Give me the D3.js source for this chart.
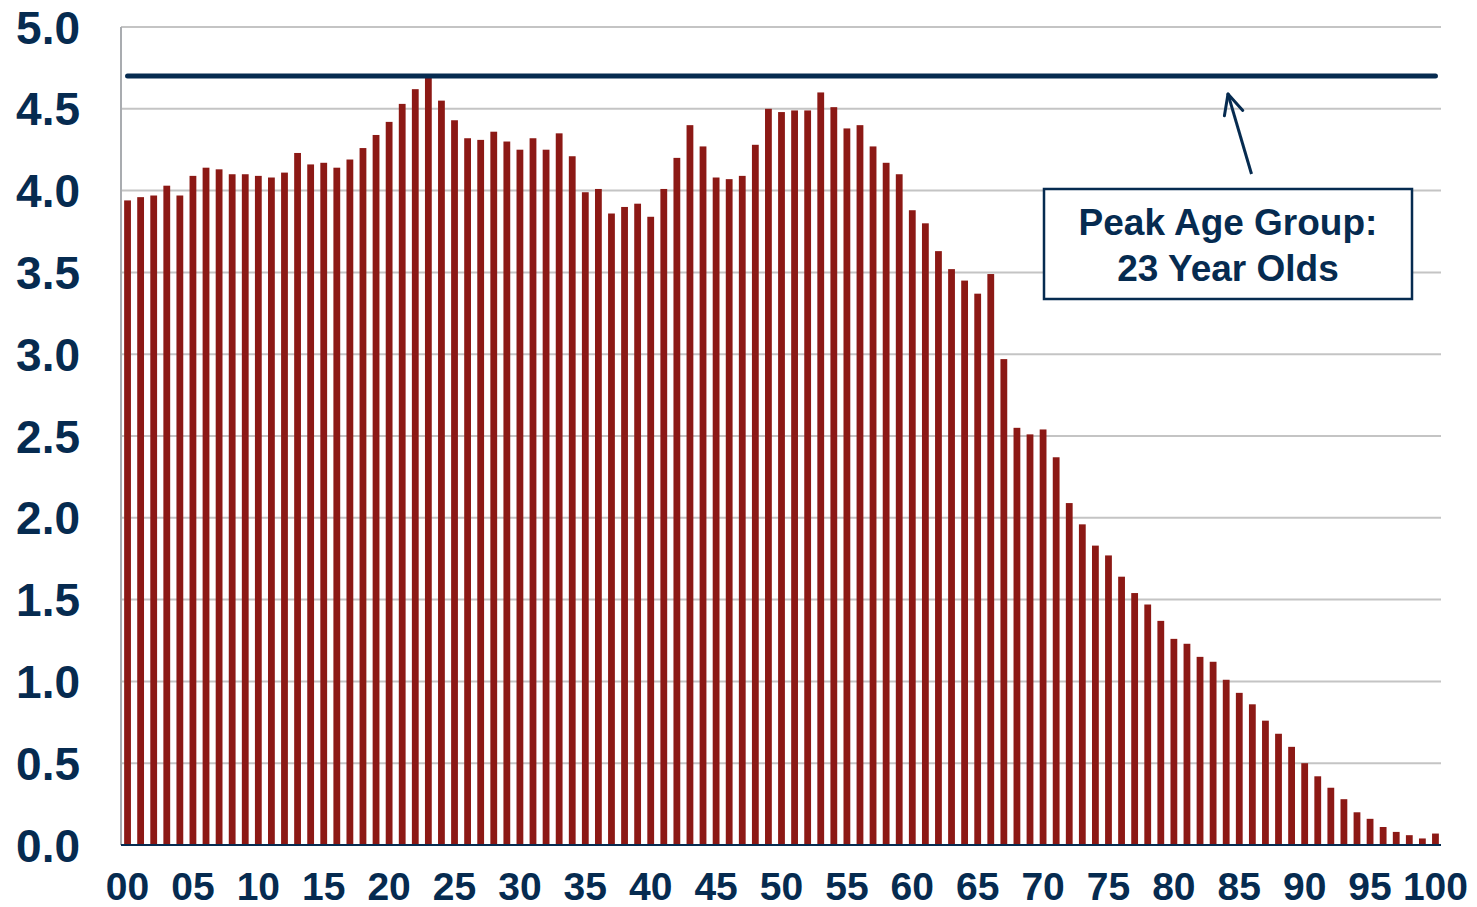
<!DOCTYPE html>
<html>
<head>
<meta charset="utf-8">
<script src="https://cdn.jsdelivr.net/npm/d3@7"></script>
<style>
  body { margin: 0; background: #fff; }
  svg { display: block; }
</style>
</head>
<body>
<div id="chart"></div>
<script>
// Ages 0..100
const ages = d3.range(0, 101);

// Population share by single year of age (%)
const shares = [
  3.94, 3.96, 3.97, 4.03, 3.97, 4.09, 4.14, 4.13, 4.10, 4.10,
  4.09, 4.08, 4.11, 4.23, 4.16, 4.17, 4.14, 4.19, 4.26, 4.34,
  4.42, 4.53, 4.62, 4.70, 4.55, 4.43, 4.32, 4.31, 4.36, 4.30,
  4.25, 4.32, 4.25, 4.35, 4.21, 3.99, 4.01, 3.86, 3.90, 3.92,
  3.84, 4.01, 4.20, 4.40, 4.27, 4.08, 4.07, 4.09, 4.28, 4.50,
  4.48, 4.49, 4.49, 4.60, 4.51, 4.38, 4.40, 4.27, 4.17, 4.10,
  3.88, 3.80, 3.63, 3.52, 3.45, 3.37, 3.49, 2.97, 2.55, 2.51,
  2.54, 2.37, 2.09, 1.96, 1.83, 1.77, 1.64, 1.54, 1.47, 1.37,
  1.26, 1.23, 1.15, 1.12, 1.01, 0.93, 0.86, 0.76, 0.68, 0.60,
  0.50, 0.42, 0.35, 0.28, 0.20, 0.16, 0.11, 0.08, 0.06, 0.04,
  0.07
];

const yTicks = [0, 0.5, 1, 1.5, 2, 2.5, 3, 3.5, 4, 4.5, 5];
const xTickAges = d3.range(0, 101, 5);

const peakValue = 4.70;
const peakLabel = ["Peak Age Group:", "23 Year Olds"];

const navy = "#062b50";
const barColor = "#8c1915";
const gridColor = "#c4c4c4";

const W = 1477, H = 907;
const margin = { top: 27, right: 1442, bottom: 845, left: 121 };

const svg = d3.select("#chart").append("svg")
  .attr("width", W)
  .attr("height", H);

const x = d3.scaleBand()
  .domain(ages)
  .range([margin.left, margin.right])
  .paddingInner(0.48)
  .paddingOuter(0.24);

const y = d3.scaleLinear()
  .domain([0, 5])
  .range([margin.bottom, margin.top]);

// gridlines
svg.append("g")
  .selectAll("line")
  .data(yTicks.filter(d => d > 0))
  .enter().append("line")
  .attr("x1", margin.left)
  .attr("x2", margin.right - 1)
  .attr("y1", d => y(d))
  .attr("y2", d => y(d))
  .attr("stroke", gridColor)
  .attr("stroke-width", 2);

// left axis line
svg.append("line")
  .attr("x1", margin.left).attr("x2", margin.left)
  .attr("y1", margin.top).attr("y2", margin.bottom)
  .attr("stroke", "#a9acb0")
  .attr("stroke-width", 2);

// bars
svg.append("g")
  .selectAll("rect")
  .data(ages)
  .enter().append("rect")
  .attr("x", d => x(d))
  .attr("width", x.bandwidth())
  .attr("y", d => y(shares[d]))
  .attr("height", d => y(0) - y(shares[d]))
  .attr("fill", barColor);

// baseline
svg.append("line")
  .attr("x1", margin.left).attr("x2", margin.right - 1)
  .attr("y1", y(0)).attr("y2", y(0))
  .attr("stroke", navy)
  .attr("stroke-width", 2);

// y tick labels
svg.append("g")
  .selectAll("text")
  .data(yTicks)
  .enter().append("text")
  .attr("x", 80)
  .attr("y", d => y(d))
  .attr("dy", "0.36em")
  .attr("text-anchor", "end")
  .attr("font-family", "'Liberation Sans', Arial, sans-serif")
  .attr("font-weight", "bold")
  .attr("font-size", 46)
  .attr("fill", navy)
  .text(d => d3.format(".1f")(d));

// x tick labels
svg.append("g")
  .selectAll("text")
  .data(xTickAges)
  .enter().append("text")
  .attr("x", d => x(d) + x.bandwidth() / 2)
  .attr("y", 900)
  .attr("text-anchor", "middle")
  .attr("font-family", "'Liberation Sans Narrow', 'Arial Narrow', sans-serif")
  .attr("font-stretch", "condensed")
  .attr("font-weight", "bold")
  .attr("font-size", 39)
  .attr("fill", navy)
  .text(d => d < 10 ? "0" + d : String(d));

// peak line
const x0 = x(ages[0]) + x.bandwidth() / 2;
const x1 = x(ages[ages.length - 1]) + x.bandwidth() / 2;
svg.append("line")
  .attr("x1", x0).attr("x2", x1)
  .attr("y1", y(peakValue)).attr("y2", y(peakValue))
  .attr("stroke", navy)
  .attr("stroke-width", 5)
  .attr("stroke-linecap", "round");

// arrow
const tip = [1228, y(peakValue) + 18];
const tail = [1251.5, 174];
svg.append("line")
  .attr("x1", tail[0]).attr("y1", tail[1])
  .attr("x2", tip[0]).attr("y2", tip[1])
  .attr("stroke", navy)
  .attr("stroke-width", 3);

const ang = Math.atan2(tail[1] - tip[1], tail[0] - tip[0]);
const headLen = 22, spread = 0.45;
[ang - spread, ang + spread].forEach(a => {
  svg.append("line")
    .attr("x1", tip[0]).attr("y1", tip[1])
    .attr("x2", tip[0] + headLen * Math.cos(a))
    .attr("y2", tip[1] + headLen * Math.sin(a))
    .attr("stroke", navy)
    .attr("stroke-width", 3)
    .attr("stroke-linecap", "round");
});

// annotation box
svg.append("rect")
  .attr("x", 1044).attr("y", 189)
  .attr("width", 368).attr("height", 110)
  .attr("fill", "#fff")
  .attr("stroke", navy)
  .attr("stroke-width", 2.5);

svg.append("g")
  .selectAll("text")
  .data(peakLabel)
  .enter().append("text")
  .attr("x", 1228)
  .attr("y", (d, i) => 235 + i * 46)
  .attr("text-anchor", "middle")
  .attr("font-family", "'Liberation Sans', Arial, sans-serif")
  .attr("font-weight", "bold")
  .attr("font-size", 37)
  .attr("fill", navy)
  .text(d => d);
</script>
</body>
</html>
